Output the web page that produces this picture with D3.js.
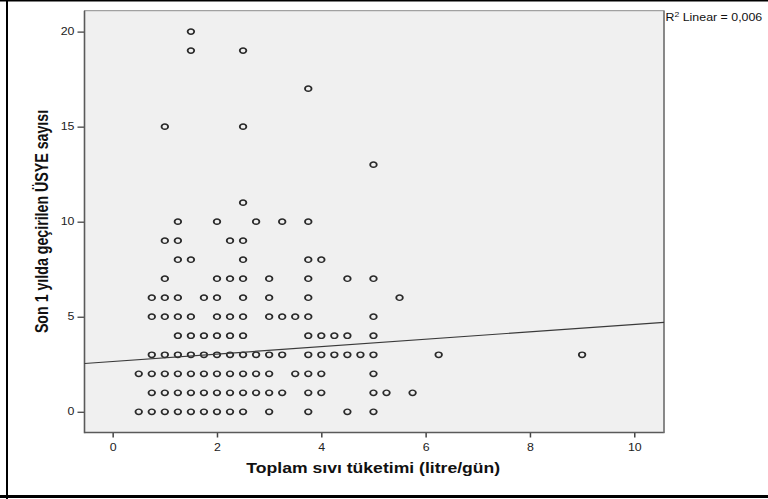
<!DOCTYPE html>
<html>
<head>
<meta charset="utf-8">
<script src="https://cdn.jsdelivr.net/npm/d3@7"></script>
<style>
  body { margin: 0; background: #fff; }
  svg { display: block; }
  text { font-family: "Liberation Sans", Arial, sans-serif; }
</style>
</head>
<body>
<svg id="chart" width="768" height="499"></svg>
<script>
// ---------- data ----------
const infectionCounts = [0, 1, 2, 3, 4, 5, 6, 7, 8, 9, 10, 11, 13, 15, 17, 19, 20];
const fluidByCount = [
  [0.5, 0.75, 1, 1.25, 1.5, 1.75, 2, 2.25, 2.5, 3, 3.75, 4.5, 5],
  [0.75, 1, 1.25, 1.5, 1.75, 2, 2.25, 2.5, 2.75, 3, 3.25, 3.75, 4, 5, 5.25, 5.75],
  [0.5, 0.75, 1, 1.25, 1.5, 1.75, 2, 2.25, 2.5, 2.75, 3, 3.5, 3.75, 4, 5],
  [0.75, 1, 1.25, 1.5, 1.75, 2, 2.25, 2.5, 2.75, 3, 3.25, 3.75, 4, 4.25, 4.5, 4.75, 5, 6.25, 9],
  [1.25, 1.5, 1.75, 2, 2.25, 2.5, 3.75, 4, 4.25, 4.5, 5],
  [0.75, 1, 1.25, 1.5, 2, 2.25, 2.5, 3, 3.25, 3.5, 3.75, 5],
  [0.75, 1, 1.25, 1.75, 2, 2.5, 3, 3.75, 5.5],
  [1, 2, 2.25, 2.5, 3, 3.75, 4.5, 5],
  [1.25, 1.5, 2.5, 3.75, 4],
  [1, 1.25, 2.25, 2.5],
  [1.25, 2, 2.75, 3.25, 3.75],
  [2.5],
  [5],
  [1, 2.5],
  [3.75],
  [1.5, 2.5],
  [1.5]
];
const xTicks = [0, 2, 4, 6, 8, 10];
const yTicks = [0, 5, 10, 15, 20];
const xDomain = [-0.54, 10.57];
const yDomain = [-1.09, 21.1];
const fitIntercept = 2.645;
const fitSlope = 0.195;
const r2Value = "0,006";
const xTitle = "Toplam sıvı tüketimi (litre/gün)";
const yTitle = "Son 1 yılda geçirilen ÜSYE sayısı";

// ---------- layout ----------
const SX = 1.24; // horizontal stretch of the original picture
const plot = { left: 84.5, right: 664, top: 10.7, bottom: 432.5 };

const svg = d3.select("#chart");

const x = d3.scaleLinear().domain(xDomain).range([plot.left, plot.right]);
const y = d3.scaleLinear().domain(yDomain).range([plot.bottom, plot.top]);

// outer frame
svg.append("line").attr("x1", 0).attr("x2", 768).attr("y1", 0.8).attr("y2", 0.8)
  .attr("stroke", "#000").attr("stroke-width", 1.6);
svg.append("line").attr("x1", 7).attr("x2", 7).attr("y1", 0).attr("y2", 499)
  .attr("stroke", "#000").attr("stroke-width", 2);
svg.append("line").attr("x1", 0).attr("x2", 768).attr("y1", 496.5).attr("y2", 496.5)
  .attr("stroke", "#000").attr("stroke-width", 3);

// plot background
svg.append("rect")
  .attr("x", plot.left).attr("y", plot.top)
  .attr("width", plot.right - plot.left).attr("height", plot.bottom - plot.top)
  .attr("fill", "#f0f0f0").attr("stroke", "#8a8a8a").attr("stroke-width", 1);

// axes
const gx = svg.append("g").attr("transform", `translate(0,${plot.bottom})`)
  .call(d3.axisBottom(x).tickValues(xTicks).tickSize(5).tickPadding(6).tickSizeOuter(0).tickFormat(d3.format("d")));
gx.select(".domain").remove();
gx.selectAll("line").attr("stroke", "#444").attr("stroke-width", 1.5);
gx.selectAll("text").attr("transform", `scale(${SX},1)`)
  .attr("font-size", 10).attr("fill", "#222")
  .style("font-family", '"Liberation Sans", Arial, sans-serif');

const gy = svg.append("g").attr("transform", `translate(${plot.left},0)`)
  .call(d3.axisLeft(y).tickValues(yTicks).tickSize(7).tickPadding(3).tickSizeOuter(0).tickFormat(d3.format("d")));
gy.select(".domain").remove();
gy.selectAll("line").attr("stroke", "#444").attr("stroke-width", 1.3);
gy.selectAll("text").attr("x", 0).attr("transform", `translate(-10,0) scale(${SX},1)`)
  .attr("font-size", 10).attr("fill", "#222")
  .style("font-family", '"Liberation Sans", Arial, sans-serif');

// darker left & bottom axis lines
svg.append("line").attr("x1", plot.left).attr("x2", plot.left).attr("y1", plot.top).attr("y2", plot.bottom + 0.7)
  .attr("stroke", "#5a5a5a").attr("stroke-width", 1.6);
svg.append("line").attr("x1", plot.left).attr("x2", plot.right + 0.5).attr("y1", plot.bottom).attr("y2", plot.bottom)
  .attr("stroke", "#5a5a5a").attr("stroke-width", 1.6);
svg.append("line").attr("x1", plot.right).attr("x2", plot.right).attr("y1", plot.top).attr("y2", plot.bottom)
  .attr("stroke", "#7a7a7a").attr("stroke-width", 1.6);

// points
const points = [];
infectionCounts.forEach((c, i) => fluidByCount[i].forEach(f => points.push({ fluid: f, count: c })));

svg.append("g").selectAll("circle").data(points).join("circle")
  .attr("transform", d => `translate(${x(d.fluid)},${y(d.count)}) scale(${SX},1)`)
  .attr("r", 2.65)
  .attr("fill", "none")
  .attr("stroke", "#2a2a2a")
  .attr("stroke-width", 1.45);

// fit line
svg.append("line")
  .attr("x1", x(xDomain[0])).attr("y1", y(fitIntercept + fitSlope * xDomain[0]))
  .attr("x2", x(xDomain[1])).attr("y2", y(fitIntercept + fitSlope * xDomain[1]))
  .attr("stroke", "#3a3a3a").attr("stroke-width", 1.2);

// R² label
const r2 = svg.append("text")
  .attr("transform", `translate(${plot.right + 1.5},20.5) scale(${SX},1)`)
  .attr("font-size", 10).attr("fill", "#111");
r2.append("tspan").text("R");
r2.append("tspan").attr("font-size", 7).attr("dy", -4).text("2");
r2.append("tspan").attr("dy", 4).text(" Linear = " + r2Value);

// axis titles
svg.append("text")
  .attr("transform", `translate(${(plot.left + plot.right) / 2 - 1},473) scale(${SX},1)`)
  .attr("text-anchor", "middle").attr("font-size", 14.2).attr("font-weight", "bold").attr("fill", "#111")
  .text(xTitle);

svg.append("text")
  .attr("transform", `translate(47.6,221.5) scale(${SX},1) rotate(-90)`)
  .attr("text-anchor", "middle").attr("font-size", 14.2).attr("font-weight", "bold").attr("fill", "#111")
  .text(yTitle);
</script>
</body>
</html>
